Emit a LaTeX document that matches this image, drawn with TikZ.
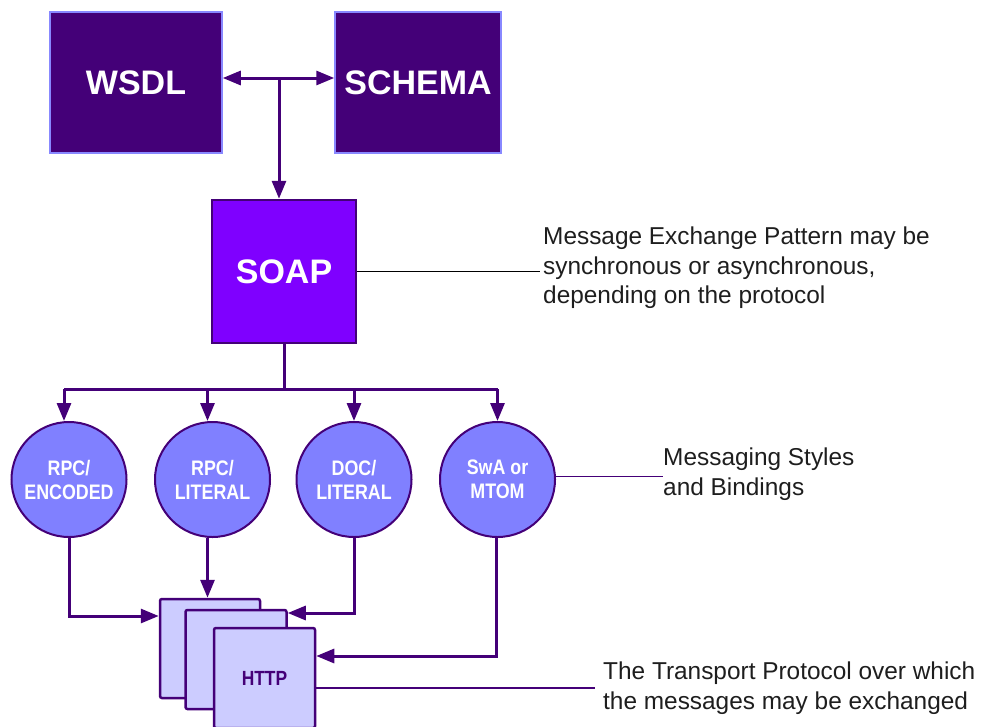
\documentclass[tikz,border=0pt]{standalone}
\usepackage{fontspec}
\setmainfont{Liberation Sans}
\newfontfamily\narrowsans{Liberation Sans}[FakeStretch=0.85]
\usetikzlibrary{arrows.meta,calc}

\definecolor{darkp}{RGB}{68,0,120}
\definecolor{violetp}{RGB}{127,0,255}
\definecolor{midp}{RGB}{128,128,255}
\definecolor{palep}{RGB}{204,204,255}
\definecolor{edgep}{RGB}{136,136,255}
\definecolor{notegray}{RGB}{30,30,30}

\tikzset{
  topbox/.style={rectangle, fill=darkp, draw=edgep, line width=1.5pt, text=white,
    inner sep=0pt, font=\fontsize{34}{40}\selectfont\bfseries},
  soapbox/.style={rectangle, fill=violetp, draw=darkp, line width=2.5pt, text=white,
    inner sep=0pt, font=\fontsize{34}{40}\selectfont\bfseries},
  bindcircle/.style={circle, fill=midp, draw=darkp, line width=2pt, minimum size=115pt,
    inner sep=0pt, text=white, align=center,
    font=\narrowsans\bfseries\fontsize{21}{24}\selectfont},
  pagebox/.style={rectangle, rounded corners=2pt, fill=palep, draw=darkp, line width=2.5pt,
    inner sep=0pt, text=darkp, font=\narrowsans\bfseries\fontsize{20.5}{24}\selectfont},
  tip/.tip={Triangle[length=18pt,width=14pt]},
  wire/.style={draw=darkp, line width=3pt},
  link/.style={wire, -tip},
  twoway/.style={wire, tip-tip},
  note/.style={font=\fontsize{24.4}{29.5}\selectfont, text=notegray, align=left, inner sep=0pt},
  lead/.style={line width=1.5pt}
}

\begin{document}
\begin{tikzpicture}[x=1pt,y=-1pt]
\useasboundingbox (0,0) rectangle (982,726);
\clip (0,0) rectangle (982,726);

% description blocks
\node[topbox, minimum width=172pt, minimum height=141pt] (wsdl) at (136,82.5) {WSDL};
\node[topbox, minimum width=166pt, minimum height=141pt] (schema) at (418,82.5) {SCHEMA};
\node[soapbox, minimum width=144pt, minimum height=143pt] (soap) at (284,271.5) {SOAP};

% messaging styles
\node[bindcircle] (c1) at (69,479.5) {RPC/\\ENCODED};
\node[bindcircle] (c2) at (212.5,479.5) {RPC/\\LITERAL};
\node[bindcircle] (c3) at (354,479.5) {DOC/\\LITERAL};
\node[bindcircle] (c4) at (497.5,479.5) {SwA or\\MTOM};

% stacked transport pages
\node[pagebox, minimum width=100pt, minimum height=99pt] (p1) at (210,648.5) {};
\node[pagebox, minimum width=101pt, minimum height=99pt] (p2) at (236,659.5) {};
\node[pagebox, minimum width=101pt, minimum height=100pt] (p3) at (264.5,678) {HTTP};

% WSDL <-> SCHEMA, down to SOAP
\coordinate (tj) at (279,78);
\draw[twoway] (wsdl.east |- tj) -- (schema.west |- tj);
\draw[link] (tj) -- (soap.north -| tj);

% SOAP fan-out bus
\coordinate (bus) at (284,389);
\draw[wire] (soap.south) -- (bus);
\draw[wire] ([xshift=-5pt]c1 |- bus) -- (c4 |- bus);
\draw[link] ([xshift=-5pt]c1 |- bus) -- ([xshift=-5pt]c1.north);
\draw[link] ([xshift=-5pt]c2 |- bus) -- ([xshift=-5pt]c2.north);
\draw[link] (c3 |- bus) -- (c3.north);
\draw[link] (c4 |- bus) -- (c4.north);

% styles into the transport
\draw[link] (c1.south) |- ([yshift=32.5pt]p1.west);
\draw[link] ([xshift=-5pt]c2.south) -- ([xshift=-5pt]p1.north -| c2);
\draw[link] (c3.south) |- ([yshift=46.5pt]p2.east);
\draw[link] ([xshift=-1.5pt]c4.south) |- ([yshift=22pt]p3.east);

% annotations
\node[note, anchor=west] (mep) at (543,268)
  {Message Exchange Pattern may be\\synchronous or asynchronous,\\depending on the protocol};
\draw[lead, black] (soap.east) -- ([xshift=-3pt]mep.west |- soap.east);

\node[note, anchor=west] (msb) at (663,474) {Messaging Styles\\and Bindings};
\draw[lead, darkp] ([yshift=3pt]c4.east) -- ([yshift=3pt]msb.west |- c4.east);

\node[note, anchor=west] (tp) at (603,688)
  {The Transport Protocol over which\\the messages may be exchanged};
\draw[lead, darkp] (p3.east |- tp.west) -- ([xshift=-8pt]tp.west);
\end{tikzpicture}
\end{document}
